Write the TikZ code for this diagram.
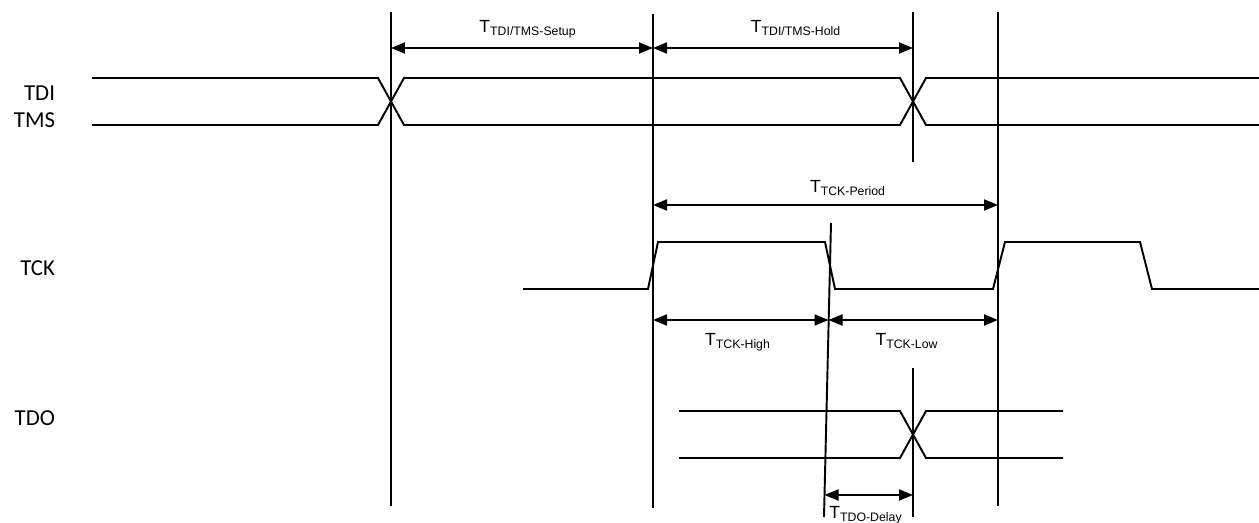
\documentclass[tikz,border=0pt]{standalone}
\usepackage{fontspec}
\setmainfont{Liberation Sans}
\newfontfamily\sigfont{Carlito}
\usetikzlibrary{arrows.meta}

\begin{document}
\begin{tikzpicture}[
    x=0.02cm, y=-0.02cm,
    line width=1.1pt,
    signame/.style={font=\sigfont\fontsize{13}{15}\selectfont, anchor=base east, inner sep=0pt},
    tlabel/.style={font=\fontsize{10}{12}\selectfont, anchor=base, inner sep=0pt},
    wave/.style={line join=miter},
    guide/.style={line width=1.1pt},
    dimarr/.style={{Triangle[length=0.28cm,width=0.22cm]}-{Triangle[length=0.28cm,width=0.22cm]}}
]
\useasboundingbox (0,0) rectangle (1259,523);

% Signal names
\node[signame] (tdi) at (56,101) {TDI};
\node[signame] (tms) at (56,128) {TMS};
\node[signame] (tck) at (56,276) {TCK};
\node[signame] (tdo) at (56,426) {TDO};

% TDI / TMS
\draw[wave] (92,78) -- (378,78) -- (404,125) -- (900,125) -- (926,78) -- (1259,78);
\draw[wave] (92,125) -- (378,125) -- (404,78) -- (900,78) -- (926,125) -- (1259,125);

% TCK
\draw[wave] (523,289) -- (648,289) -- (658,242) -- (825,242) -- (835,289) -- (993,289)
    -- (1005,242) -- (1140,242) -- (1152,289) -- (1259,289);

% TDO
\draw[wave] (679,411) -- (900,411) -- (926,458) -- (1063,458);
\draw[wave] (679,458) -- (900,458) -- (926,411) -- (1063,411);

% Guide lines
\coordinate (atop) at (391,12);  \coordinate (abot) at (391,506);
\coordinate (btop) at (653,14);  \coordinate (bbot) at (653,508);
\coordinate (ctop) at (913,12);  \coordinate (cbot) at (913,162);
\coordinate (dtop) at (998,12);  \coordinate (dbot) at (998,506);
\coordinate (etop) at (831,223); \coordinate (ebot) at (824,517);
\coordinate (ftop) at (913,368); \coordinate (fbot) at (913,517);
\draw[guide] (atop) -- (abot);
\draw[guide] (btop) -- (bbot);
\draw[guide] (ctop) -- (cbot);
\draw[guide] (dtop) -- (dbot);
\draw[guide] (etop) -- (ebot);
\draw[guide] (ftop) -- (fbot);

% Timing arrows
\coordinate (setupl) at (391,48);  \coordinate (setupr) at (653,48);
\coordinate (holdr) at (913,48);
\coordinate (perl) at (653,205);   \coordinate (perr) at (998,205);
\coordinate (highl) at (653,320);  \coordinate (highr) at (828.5,320);
\coordinate (lowr) at (998,320);
\coordinate (dell) at (824.5,495); \coordinate (delr) at (913,495);
\draw[dimarr] (setupl) -- (setupr);
\draw[dimarr] (setupr) -- (holdr);
\draw[dimarr] (perl) -- (perr);
\draw[dimarr] (highl) -- (highr);
\draw[dimarr] (highr) -- (lowr);
\draw[dimarr] (dell) -- (delr);

% Labels
\node[tlabel] (lsetup) at (528,33) {T\textsubscript{TDI/TMS-Setup}};
\node[tlabel] (lhold) at (796,33) {T\textsubscript{TDI/TMS-Hold}};
\node[tlabel] (lper) at (848,193) {T\textsubscript{TCK-Period}};
\node[tlabel] (lhigh) at (738,346) {T\textsubscript{TCK-High}};
\node[tlabel] (llow) at (907,346) {T\textsubscript{TCK-Low}};
\node[tlabel] (ldel) at (866,519) {T\textsubscript{TDO-Delay}};

\end{tikzpicture}
\end{document}
